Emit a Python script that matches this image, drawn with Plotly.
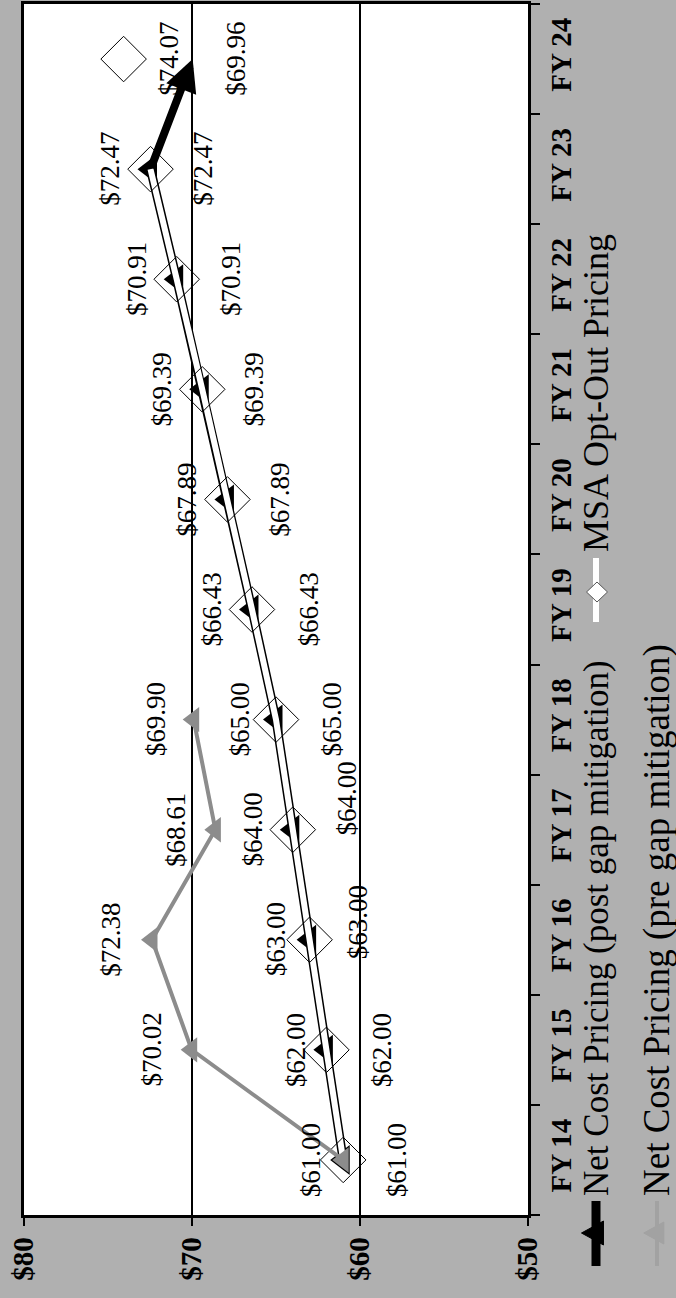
import plotly.graph_objects as go

# Fiscal years (category axis) and price series
fiscal_years = ["FY 14", "FY 15", "FY 16", "FY 17", "FY 18", "FY 19",
                "FY 20", "FY 21", "FY 22", "FY 23", "FY 24"]
msa_opt_out = [61.00, 62.00, 63.00, 64.00, 65.00, 66.43, 67.89, 69.39, 70.91, 72.47, 74.07]
net_post_gap = [61.00, 62.00, 63.00, 64.00, 65.00, 66.43, 67.89, 69.39, 70.91, 72.47, 69.96]
net_pre_gap = [61.00, 70.02, 72.38, 68.61, 69.90, None, None, None, None, None, None]

value_ticks = [80, 70, 60, 50]
value_tick_text = ["$80", "$70", "$60", "$50"]

W, H = 676, 1298
SERIF = "Liberation Serif"
GRAY = "#8c8c8c"
BG = "#b0b0b0"

idx = list(range(len(fiscal_years)))
n_line = len(fiscal_years) - 1  # solid segments stop at FY 23

fig = go.Figure()

# Net Cost Pricing (post gap mitigation): thick black line with triangles
fig.add_trace(go.Scatter(
    x=net_post_gap[:n_line], y=idx[:n_line], mode="lines+markers",
    line=dict(color="black", width=9),
    marker=dict(symbol="triangle-left", size=26, color="black"),
    hoverinfo="skip", showlegend=False))

# MSA Opt-Out Pricing: white line laid over the black one
fig.add_trace(go.Scatter(
    x=msa_opt_out[:n_line], y=idx[:n_line], mode="lines",
    line=dict(color="white", width=6),
    hoverinfo="skip", showlegend=False))
fig.add_trace(go.Scatter(
    x=msa_opt_out, y=idx, mode="markers",
    marker=dict(symbol="diamond-open", size=35, color="black", line=dict(width=1)),
    hoverinfo="skip", showlegend=False))

# Net Cost Pricing (pre gap mitigation): gray line
fig.add_trace(go.Scatter(
    x=net_pre_gap, y=idx, mode="lines+markers",
    line=dict(color=GRAY, width=4),
    marker=dict(symbol="triangle-left", size=22, color=GRAY),
    hoverinfo="skip", showlegend=False))

annotations = []

# Final post-gap step drawn as an arrow FY 23 -> FY 24
annotations.append(dict(
    x=net_post_gap[-1], y=idx[-1], ax=net_post_gap[-2], ay=idx[-2],
    xref="x", yref="y", axref="x", ayref="y", text="",
    showarrow=True, arrowhead=2, arrowsize=0.8, arrowwidth=8,
    arrowcolor="black", standoff=0, startstandoff=0))

label_font = dict(family=SERIF, size=27, color="black")

def value_label(v, i, dx, dy=0):
    return dict(x=v, y=i, xref="x", yref="y", text=f"${v:.2f}",
                showarrow=False, textangle=-90, xshift=dx, yshift=dy,
                xanchor="center", yanchor="middle", font=label_font)

msa_dx = [-32, -31, -34, -40, -36, -40, -40, -40, -39, -40, 45]
post_dx = [54, 55, 48, 54, 56, 57, 53, 52, 55, 53, 43]
post_dy = [0, 0, 17, 31, 0, 0, 0, 0, 0, 0, 0]
pre_dx = [None, -40, -41, -40, -38]

for i, v in enumerate(msa_opt_out):
    annotations.append(value_label(v, i, msa_dx[i]))
for i, v in enumerate(net_post_gap):
    annotations.append(value_label(v, i, post_dx[i], post_dy[i]))
for i, v in enumerate(net_pre_gap):
    if v is not None and pre_dx[i] is not None:
        annotations.append(value_label(v, i, pre_dx[i]))

# Legend, set vertically along the right edge
def px(x):
    return x / W

def py(y):
    return 1 - y / H

annotations.append(dict(
    x=px(596), y=py(1198), xref="paper", yref="paper",
    text="Net Cost Pricing (post gap mitigation)", showarrow=False,
    textangle=-90, xanchor="center", yanchor="bottom",
    font=dict(family=SERIF, size=35, color="black")))
annotations.append(dict(
    x=px(596), y=py(554), xref="paper", yref="paper",
    text="MSA Opt-Out Pricing", showarrow=False,
    textangle=-90, xanchor="center", yanchor="bottom",
    font=dict(family=SERIF, size=36, color="black")))
annotations.append(dict(
    x=px(657), y=py(1198), xref="paper", yref="paper",
    text="Net Cost Pricing (pre gap mitigation)", showarrow=False,
    textangle=-90, xanchor="center", yanchor="bottom",
    font=dict(family=SERIF, size=37, color="black")))

def tri_left(cx, cy, w, h):
    return (f"M {px(cx - w * 0.66)} {py(cy)} L {px(cx + w * 0.34)} {py(cy - h / 2)} "
            f"L {px(cx + w * 0.34)} {py(cy + h / 2)} Z")

def diamond(cx, cy, w, h):
    return (f"M {px(cx)} {py(cy - h / 2)} L {px(cx + w / 2)} {py(cy)} "
            f"L {px(cx)} {py(cy + h / 2)} L {px(cx - w / 2)} {py(cy)} Z")

LEG_GRAY = "#a2a2a2"
shapes = [
    dict(type="line", xref="paper", yref="paper", x0=px(596), x1=px(596),
         y0=py(1201), y1=py(1266), line=dict(color="black", width=9)),
    dict(type="path", xref="paper", yref="paper", path=tri_left(596, 1233, 22, 24),
         fillcolor="black", line=dict(color="black", width=1)),
    dict(type="line", xref="paper", yref="paper", x0=px(596), x1=px(596),
         y0=py(558), y1=py(622), line=dict(color="white", width=6)),
    dict(type="path", xref="paper", yref="paper", path=diamond(597, 592, 21, 20),
         fillcolor="white", line=dict(color="#555555", width=1)),
    dict(type="line", xref="paper", yref="paper", x0=px(657), x1=px(657),
         y0=py(1201), y1=py(1266), line=dict(color=LEG_GRAY, width=4)),
    dict(type="path", xref="paper", yref="paper", path=tri_left(657, 1233, 20, 22),
         fillcolor=LEG_GRAY, line=dict(color=LEG_GRAY, width=1)),
]

fig.update_layout(
    width=W, height=H,
    margin=dict(l=0, r=0, t=0, b=0),
    paper_bgcolor=BG, plot_bgcolor="white",
    showlegend=False,
    annotations=annotations,
    shapes=shapes,
    xaxis=dict(
        domain=[24 / W, 528 / W], range=[80, 50], automargin=False,
        tickmode="array", tickvals=value_ticks, ticktext=value_tick_text,
        tickangle=-90, ticks="outside", ticklen=8, tickwidth=1.5, tickcolor="black",
        tickfont=dict(family=SERIF, size=29, color="black", weight="bold"),
        showgrid=True, gridcolor="black", gridwidth=1.5, zeroline=False,
        showline=True, linecolor="black", linewidth=2.5, mirror=True,
        fixedrange=True),
    yaxis=dict(
        domain=[1 - 1215 / H, 1 - 4 / H], range=[-0.5, len(fiscal_years) - 0.5],
        automargin=False, side="right",
        tickmode="array", tickvals=idx, ticktext=fiscal_years,
        tickangle=-90, ticks="", ticklabelstandoff=5,
        tickfont=dict(family=SERIF, size=29, color="black", weight="bold"),
        minor=dict(tickmode="array", tickvals=[i - 0.5 for i in range(len(fiscal_years) + 1)],
                   ticks="outside", ticklen=9, tickwidth=1.5, tickcolor="black",
                   showgrid=False),
        showgrid=False, zeroline=False,
        showline=True, linecolor="black", linewidth=2.5, mirror=True,
        fixedrange=True),
)

fig.write_html("out.html")
